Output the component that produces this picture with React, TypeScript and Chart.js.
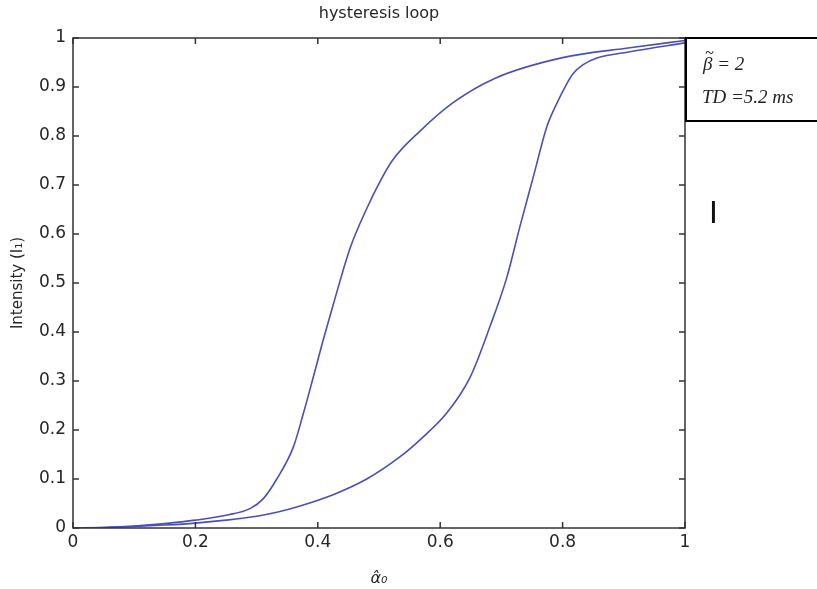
import React, { useEffect, useRef } from "react";
import { Chart, registerables } from "chart.js";

Chart.register(...registerables);

// Upper branch (switching up at lower alpha)
const alphaUp = [0, 0.05, 0.1, 0.15, 0.2, 0.25, 0.29, 0.311, 0.333, 0.36, 0.376, 0.392, 0.408, 0.425, 0.453, 0.48, 0.502, 0.523, 0.567, 0.621, 0.69, 0.8, 0.91, 1.0];
const intensityUp = [0, 0.001, 0.004, 0.009, 0.016, 0.026, 0.04, 0.06, 0.1, 0.165, 0.232, 0.305, 0.38, 0.455, 0.572, 0.652, 0.708, 0.752, 0.81, 0.868, 0.918, 0.96, 0.98, 0.995];

// Lower branch (switching at higher alpha)
const alphaDown = [0, 0.05, 0.1, 0.15, 0.2, 0.25, 0.3, 0.333, 0.371, 0.425, 0.48, 0.534, 0.567, 0.611, 0.649, 0.681, 0.709, 0.73, 0.752, 0.774, 0.79, 0.807, 0.817, 0.833, 0.856, 0.91, 1.0];
const intensityDown = [0, 0.001, 0.003, 0.006, 0.01, 0.016, 0.024, 0.032, 0.045, 0.068, 0.1, 0.145, 0.18, 0.235, 0.308, 0.41, 0.512, 0.614, 0.716, 0.818, 0.865, 0.907, 0.927, 0.945, 0.959, 0.972, 0.99];

const xTickValues = [0, 0.2, 0.4, 0.6, 0.8, 1];
const yTickValues = [0, 0.1, 0.2, 0.3, 0.4, 0.5, 0.6, 0.7, 0.8, 0.9, 1];

const titleText = "hysteresis loop";
const xTitle = "α̂₀";
const yTitle = "Intensity (I₁)";
const betaSymbol = "β";
const betaTilde = "~";
const betaRest = " = 2";
const tdLine = "TD =5.2 ms";

const LINE_COLOR = "#4a50b5";
const AXIS_COLOR = "#333333";
const TEXT_COLOR = "#262626";
const SANS = "'DejaVu Sans', 'Liberation Sans', Arial, sans-serif";
const SERIF = "'Liberation Serif', 'Times New Roman', serif";

const toPoints = (xs: number[], ys: number[]) => xs.map((x, i) => ({ x, y: ys[i] }));

const framePlugin = {
  id: "matlabFrame",
  afterDraw(chart: any) {
    const { ctx, chartArea: a, scales } = chart;
    ctx.save();
    // frame
    ctx.strokeStyle = AXIS_COLOR;
    ctx.lineWidth = 1.5;
    ctx.strokeRect(a.left, a.top, a.right - a.left, a.bottom - a.top);
    // inward ticks
    const len = 6;
    ctx.beginPath();
    scales.x.ticks.forEach((t: any) => {
      const px = scales.x.getPixelForValue(t.value);
      ctx.moveTo(px, a.bottom);
      ctx.lineTo(px, a.bottom - len);
      ctx.moveTo(px, a.top);
      ctx.lineTo(px, a.top + len);
    });
    scales.y.ticks.forEach((t: any) => {
      const py = scales.y.getPixelForValue(t.value);
      ctx.moveTo(a.left, py);
      ctx.lineTo(a.left + len, py);
      ctx.moveTo(a.right, py);
      ctx.lineTo(a.right - len, py);
    });
    ctx.stroke();

    // title
    ctx.fillStyle = TEXT_COLOR;
    ctx.font = `16px ${SANS}`;
    ctx.textAlign = "center";
    ctx.textBaseline = "middle";
    ctx.fillText(titleText, (a.left + a.right) / 2, 14);

    // annotation box
    ctx.strokeStyle = "#000000";
    ctx.lineWidth = 2;
    ctx.strokeRect(a.right + 1, a.top, 140, 83);
    ctx.fillStyle = "#222222";
    ctx.font = `italic 19px ${SERIF}`;
    ctx.textAlign = "left";
    ctx.textBaseline = "alphabetic";
    const bx = a.right + 18;
    const by = a.top + 32;
    ctx.fillText(betaSymbol, bx, by);
    const bw = ctx.measureText(betaSymbol).width;
    ctx.font = `italic 16px ${SERIF}`;
    ctx.fillText(betaTilde, bx + 2, by - 12);
    ctx.font = `italic 19px ${SERIF}`;
    ctx.fillText(betaRest, bx + bw, by);
    ctx.fillText(tdLine, a.right + 17, a.top + 65);

    // stray cursor mark
    ctx.fillStyle = "#111111";
    ctx.font = `32px 'Liberation Sans', Arial, sans-serif`;
    ctx.fillText("I", a.right + 24, a.top + 185);
    ctx.restore();
  },
};

export default function App() {
  const canvasRef = useRef<HTMLCanvasElement | null>(null);

  useEffect(() => {
    const canvas = canvasRef.current;
    if (!canvas) return;
    const chart = new Chart(canvas, {
      type: "scatter",
      data: {
        datasets: [
          {
            data: toPoints(alphaUp, intensityUp),
            showLine: true,
            borderColor: LINE_COLOR,
            borderWidth: 1.6,
            pointRadius: 0,
            cubicInterpolationMode: "monotone",
            fill: false,
          },
          {
            data: toPoints(alphaDown, intensityDown),
            showLine: true,
            borderColor: LINE_COLOR,
            borderWidth: 1.6,
            pointRadius: 0,
            cubicInterpolationMode: "monotone",
            fill: false,
          },
        ],
      },
      options: {
        animation: false,
        responsive: false,
        maintainAspectRatio: false,
        layout: { padding: { left: 0, top: 38, right: 132, bottom: 0 } },
        plugins: {
          legend: { display: false },
          tooltip: { enabled: false },
          title: { display: false },
        },
        scales: {
          x: {
            type: "linear",
            min: 0,
            max: 1,
            afterBuildTicks: (scale: any) => {
              scale.ticks = xTickValues.map((v) => ({ value: v }));
            },
            afterFit: (scale: any) => {
              scale.height = 61;
            },
            grid: { display: false, drawTicks: false },
            border: { display: false },
            ticks: {
              padding: 4,
              color: TEXT_COLOR,
              font: { family: SANS, size: 17 },
              maxRotation: 0,
              callback: (v: any) => String(Number(v)),
            },
            title: {
              display: true,
              text: xTitle,
              color: TEXT_COLOR,
              font: { family: SANS, size: 16, style: "italic" },
              padding: { top: 0, bottom: 1 },
            },
          },
          y: {
            type: "linear",
            min: 0,
            max: 1,
            afterBuildTicks: (scale: any) => {
              scale.ticks = yTickValues.map((v) => ({ value: v }));
            },
            afterFit: (scale: any) => {
              scale.width = 73;
            },
            grid: { display: false, drawTicks: false },
            border: { display: false },
            ticks: {
              padding: 7,
              color: TEXT_COLOR,
              font: { family: SANS, size: 17 },
              callback: (v: any) => String(Number(v)),
            },
            title: {
              display: true,
              text: yTitle,
              color: TEXT_COLOR,
              font: { family: SANS, size: 15 },
              padding: { top: 9, bottom: 0 },
            },
          },
        },
      },
      plugins: [framePlugin],
    });
    return () => chart.destroy();
  }, []);

  return (
    <div style={{ position: "fixed", left: 0, top: 0, width: 817, height: 589, background: "#ffffff" }}>
      <canvas ref={canvasRef} width={817} height={589} style={{ width: 817, height: 589, display: "block" }} />
    </div>
  );
}
